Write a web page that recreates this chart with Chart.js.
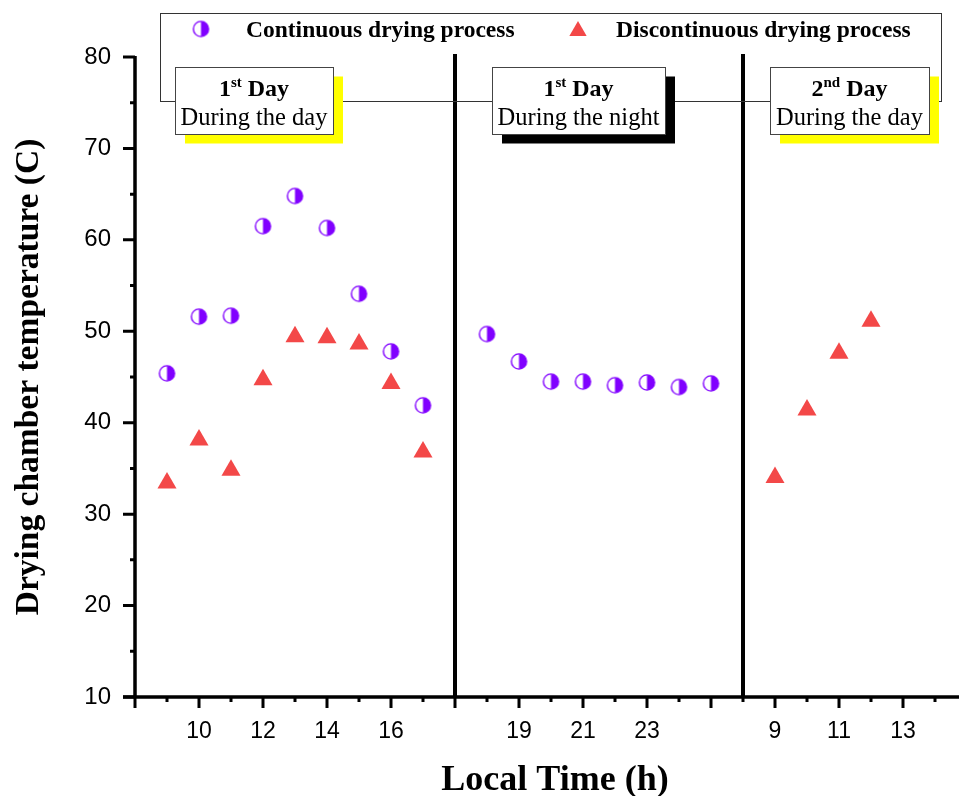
<!DOCTYPE html>
<html>
<head>
<meta charset="utf-8">
<script src="https://cdn.jsdelivr.net/npm/chart.js@4.4.0/dist/chart.umd.min.js"></script>
<style>
  body { margin: 0; background: #fff; }
  #wrap { width: 959px; height: 796px; }
</style>
</head>
<body>
<div id="wrap"><canvas id="chart" width="959" height="796"></canvas></div>
<script>
// hours of each part of the broken time axis
const day1Hours = [9, 10, 11, 12, 13, 14, 15, 16, 17];
const nightHours = [18, 19, 20, 21, 22, 23, 24, 25];
const day2Hours = [9, 10, 11, 12];

// drying chamber temperature (C)
const contDay1 = [45.4, 51.6, 51.7, 61.5, 64.8, 61.3, 54.1, 47.8, 41.9];
const contNight = [49.7, 46.7, 44.5, 44.5, 44.1, 44.4, 43.9, 44.3];
const discDay1 = [33.4, 38.1, 34.8, 44.7, 49.4, 49.3, 48.6, 44.3, 36.8];
const discDay2 = [34.0, 41.4, 47.6, 51.1];

// offset of each part on the axis, and where the parts are split
const nightShift = 1;
const day2Shift = 19;
const breaks = [18, 27];

// labelled ticks of the time axis
const tickValues = [10, 12, 14, 16, 20, 22, 24, 28, 30, 32];
const tickLabels = ['10', '12', '14', '16', '19', '21', '23', '9', '11', '13'];

const seriesNames = ['Continuous drying process', 'Discontinuous drying process'];

const PURPLE = '#8000ff';
const RED = '#f34848';
const SERIF = '"Liberation Serif", "Times New Roman", serif';
const SANS = '"Liberation Sans", Arial, sans-serif';

const toPoints = (hours, vals, shift) => hours.map((h, i) => ({ x: h + shift, y: vals[i] }));

// half filled circle marker
function halfDot() {
  const c = document.createElement('canvas');
  c.width = 19; c.height = 19;
  const g = c.getContext('2d');
  g.fillStyle = '#fff';
  g.beginPath(); g.arc(9.5, 9.5, 7.6, 0, Math.PI * 2); g.fill();
  g.fillStyle = PURPLE;
  g.beginPath(); g.arc(9.5, 9.5, 7.6, -Math.PI / 2, Math.PI / 2); g.closePath(); g.fill();
  g.strokeStyle = PURPLE; g.lineWidth = 1.4;
  g.beginPath(); g.arc(9.5, 9.5, 7.6, 0, Math.PI * 2); g.stroke();
  return c;
}
const dotImg = halfDot();

function triangle(ctx, x, y, r) {
  ctx.fillStyle = RED;
  ctx.beginPath();
  ctx.moveTo(x, y - r);
  ctx.lineTo(x + r * Math.sin(Math.PI / 3), y + r / 2);
  ctx.lineTo(x - r * Math.sin(Math.PI / 3), y + r / 2);
  ctx.closePath();
  ctx.fill();
}

// the boxes naming each part of the run
const panels = [
  { x: 175, w: 158, num: '1', sup: 'st', sub: 'During the day', shadow: '#ffff00' },
  { x: 492, w: 173, num: '1', sup: 'st', sub: 'During the night', shadow: '#000000' },
  { x: 770, w: 159, num: '2', sup: 'nd', sub: 'During the day', shadow: '#ffff00' }
];

const decor = {
  id: 'decor',
  afterDraw(chart) {
    const { ctx, scales: { x, y } } = chart;
    ctx.save();
    ctx.strokeStyle = '#000';
    ctx.lineCap = 'butt';

    // axis lines
    ctx.lineWidth = 3.5;
    ctx.beginPath();
    ctx.moveTo(x.left - 12, y.bottom); ctx.lineTo(chart.width, y.bottom);
    ctx.moveTo(x.left, y.top - 1); ctx.lineTo(x.left, y.bottom);
    ctx.stroke();

    // ticks
    ctx.lineWidth = 3;
    ctx.beginPath();
    for (let v = 8; v <= x.max; v++) {
      const px = x.getPixelForValue(v);
      ctx.moveTo(px, y.bottom); ctx.lineTo(px, y.bottom + (v % 2 === 0 ? 11 : 5));
    }
    for (let v = 10; v <= 80; v += 5) {
      const py = y.getPixelForValue(v);
      ctx.moveTo(x.left, py); ctx.lineTo(x.left - (v % 10 === 0 ? 12 : 5), py);
    }
    ctx.stroke();

    // breaks between parts
    ctx.lineWidth = 4;
    ctx.beginPath();
    breaks.forEach(b => {
      const px = x.getPixelForValue(b);
      ctx.moveTo(px, y.top - 3); ctx.lineTo(px, y.bottom);
    });
    ctx.stroke();

    // legend
    ctx.lineWidth = 1;
    ctx.strokeStyle = '#333';
    ctx.strokeRect(160.5, 13.5, 781, 88);
    ctx.drawImage(dotImg, 201 - 9.5, 29 - 9.5);
    triangle(ctx, 578, 31, 10);
    ctx.fillStyle = '#000';
    ctx.font = 'bold 23.5px ' + SERIF;
    ctx.textBaseline = 'alphabetic';
    ctx.textAlign = 'left';
    ctx.fillText(seriesNames[0], 246, 37);
    ctx.fillText(seriesNames[1], 616, 37);

    // part boxes
    panels.forEach(p => {
      const top = 67, h = 67;
      ctx.fillStyle = p.shadow;
      ctx.fillRect(p.x + 10, top + 9.5, p.w, h);
      ctx.fillStyle = '#fff';
      ctx.fillRect(p.x, top, p.w, h);
      ctx.strokeStyle = '#444';
      ctx.lineWidth = 1;
      ctx.strokeRect(p.x + 0.5, top + 0.5, p.w, h);

      const cx = p.x + p.w / 2;
      const big = 'bold 24px ' + SERIF;
      const small = 'bold 15px ' + SERIF;
      ctx.font = big; const w1 = ctx.measureText(p.num).width; const w3 = ctx.measureText(' Day').width;
      ctx.font = small; const w2 = ctx.measureText(p.sup).width;
      let sx = cx - (w1 + w2 + w3) / 2;
      ctx.fillStyle = '#000';
      ctx.textAlign = 'left';
      ctx.font = big; ctx.fillText(p.num, sx, 96);
      ctx.font = small; ctx.fillText(p.sup, sx + w1, 87);
      ctx.font = big; ctx.fillText(' Day', sx + w1 + w2, 96);
      ctx.textAlign = 'center';
      ctx.font = '24.5px ' + SERIF;
      ctx.fillText(p.sub, cx, 125);
    });

    // x axis title
    ctx.font = 'bold 36px ' + SERIF;
    ctx.textAlign = 'center';
    ctx.fillStyle = '#000';
    ctx.fillText('Local Time (h)', 555, 790);
    ctx.restore();
  }
};

new Chart(document.getElementById('chart'), {
  type: 'scatter',
  data: {
    datasets: [
      {
        label: seriesNames[0],
        data: toPoints(day1Hours, contDay1, 0).concat(toPoints(nightHours, contNight, nightShift)),
        pointStyle: dotImg,
        pointRadius: 9,
        backgroundColor: PURPLE,
        borderColor: PURPLE
      },
      {
        label: seriesNames[1],
        data: toPoints(day1Hours, discDay1, 0).concat(toPoints(day2Hours, discDay2, day2Shift)),
        pointStyle: 'triangle',
        pointRadius: 11,
        borderWidth: 0,
        backgroundColor: RED,
        borderColor: RED
      }
    ]
  },
  options: {
    responsive: false,
    animation: false,
    devicePixelRatio: 1,
    layout: { autoPadding: false, padding: { top: 57, right: 0, left: 0, bottom: 0 } },
    plugins: { legend: { display: false }, tooltip: { enabled: false } },
    scales: {
      x: {
        type: 'linear',
        min: 8,
        max: 33.75,
        afterFit: s => { s.height = 99; s.paddingLeft = 0; s.paddingRight = 0; },
        border: { display: false },
        grid: { drawOnChartArea: false, drawTicks: true, tickLength: 10, tickColor: 'rgba(0,0,0,0)' },
        ticks: {
          stepSize: 1,
          autoSkip: false,
          maxRotation: 0,
          padding: 11,
          color: '#000',
          font: { family: SANS, size: 23 },
          callback: v => {
            const i = tickValues.indexOf(v);
            return i >= 0 ? tickLabels[i] : '';
          }
        }
      },
      y: {
        min: 10,
        max: 80,
        afterFit: s => { s.width = 135; },
        border: { display: false },
        grid: { drawOnChartArea: false, drawTicks: true, tickLength: 10, tickColor: 'rgba(0,0,0,0)' },
        ticks: { stepSize: 10, padding: 14, color: '#000', font: { family: SANS, size: 24 } },
        title: {
          display: true,
          text: 'Drying chamber temperature (C)',
          color: '#000',
          font: { family: SERIF, size: 33.5, weight: 'bold' },
          padding: { top: 9, bottom: 0 }
        }
      }
    }
  },
  plugins: [decor]
});
</script>
</body>
</html>
